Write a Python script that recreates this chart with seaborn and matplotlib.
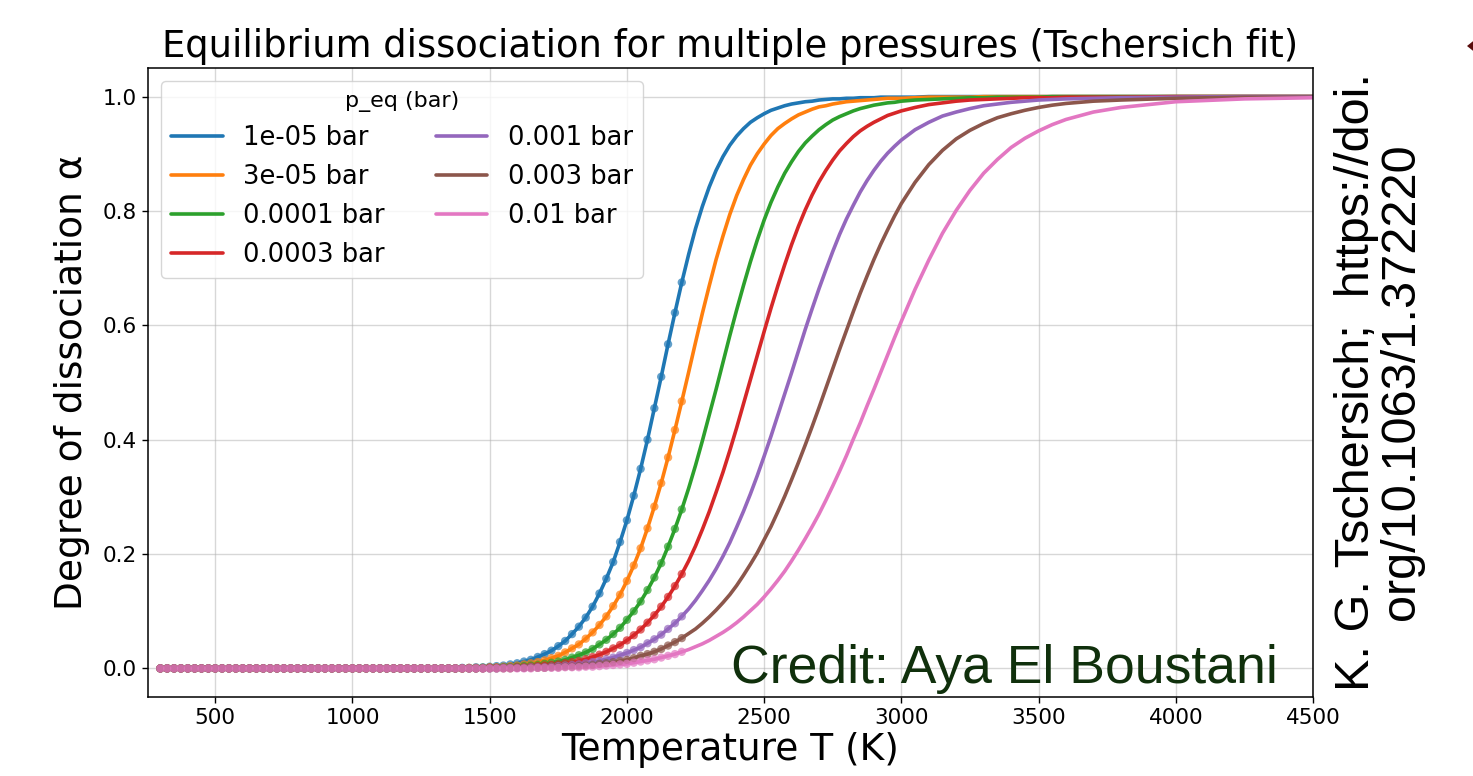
import matplotlib
matplotlib.use("Agg")
import matplotlib.pyplot as plt
from matplotlib.patches import Polygon
from matplotlib import font_manager
import seaborn as sns
import pandas as pd

# ---------------- data ----------------
PRESSURES = [1e-05, 3e-05, 0.0001, 0.0003, 0.001, 0.003, 0.01]   # bar
LABELS = [f"{p} bar" for p in PRESSURES]
COLORS = ["#1f77b4", "#ff7f0e", "#2ca02c", "#d62728", "#9467bd", "#8c564b", "#e377c2"]

# temperatures where every curve still reads 0.000
T_COLD = [300, 325, 350, 375, 400, 425, 450, 475, 500, 525, 550,
          575, 600, 625, 650, 675, 700, 725, 750, 775, 800, 825,
          850, 875, 900, 925, 950, 975, 1000, 1025, 1050, 1075, 1100,
          1125, 1150, 1175, 1200, 1225, 1250, 1275, 1300, 1325, 1350, 1375]
ALPHA_COLD = [0.0, 0.0, 0.0, 0.0, 0.0, 0.0, 0.0, 0.0, 0.0, 0.0, 0.0,
              0.0, 0.0, 0.0, 0.0, 0.0, 0.0, 0.0, 0.0, 0.0, 0.0, 0.0,
              0.0, 0.0, 0.0, 0.0, 0.0, 0.0, 0.0, 0.0, 0.0, 0.0, 0.0,
              0.0, 0.0, 0.0, 0.0, 0.0, 0.0, 0.0, 0.0, 0.0, 0.0, 0.0]

T_HOT = [1400, 1425, 1450, 1475, 1500, 1525, 1550, 1575, 1600, 1625, 1650,
         1675, 1700, 1725, 1750, 1775, 1800, 1825, 1850, 1875, 1900, 1925,
         1950, 1975, 2000, 2025, 2050, 2075, 2100, 2125, 2150, 2175, 2200,
         2250, 2300, 2350, 2400, 2450, 2500, 2550, 2600, 2650, 2700, 2750,
         2800, 2850, 2900, 2950, 3000,
         3050, 3100, 3150, 3200, 3250, 3300, 3350, 3400, 3450, 3500, 3550, 3600,
         3700, 3800, 4000, 4250, 4500]

ALPHA_1E5 = [0.001, 0.001, 0.002, 0.002, 0.003, 0.004, 0.005, 0.007, 0.009, 0.012, 0.015,
             0.020, 0.025, 0.031, 0.039, 0.048, 0.060, 0.073, 0.089, 0.108, 0.131, 0.157,
             0.186, 0.221, 0.259, 0.302, 0.349, 0.400, 0.455, 0.510, 0.567, 0.622, 0.675,
             0.769, 0.842, 0.895, 0.931, 0.955, 0.970, 0.980, 0.987, 0.991, 0.994, 0.996,
             0.997, 0.998, 0.998, 0.999, 0.999,
             0.999, 1.000, 1.000, 1.000, 1.000, 1.000, 1.000, 1.000, 1.000, 1.000, 1.000, 1.000,
             1.000, 1.000, 1.000, 1.000, 1.000]
ALPHA_3E5 = [0.000, 0.001, 0.001, 0.001, 0.002, 0.002, 0.003, 0.004, 0.005, 0.007, 0.009,
             0.011, 0.014, 0.018, 0.022, 0.028, 0.035, 0.042, 0.052, 0.063, 0.076, 0.091,
             0.109, 0.129, 0.153, 0.180, 0.210, 0.245, 0.283, 0.324, 0.369, 0.417, 0.467,
             0.570, 0.669, 0.756, 0.827, 0.880, 0.917, 0.944, 0.961, 0.973, 0.982, 0.987,
             0.991, 0.993, 0.995, 0.997, 0.997,
             0.998, 0.999, 0.999, 0.999, 0.999, 1.000, 1.000, 1.000, 1.000, 1.000, 1.000, 1.000,
             1.000, 1.000, 1.000, 1.000, 1.000]
ALPHA_1E4 = [0.000, 0.000, 0.000, 0.001, 0.001, 0.001, 0.002, 0.002, 0.003, 0.004, 0.005,
             0.006, 0.008, 0.010, 0.012, 0.015, 0.019, 0.023, 0.028, 0.034, 0.042, 0.050,
             0.060, 0.071, 0.085, 0.100, 0.117, 0.137, 0.159, 0.184, 0.213, 0.244, 0.278,
             0.355, 0.443, 0.535, 0.627, 0.711, 0.784, 0.842, 0.886, 0.919, 0.942, 0.959,
             0.970, 0.979, 0.985, 0.989, 0.992,
             0.994, 0.995, 0.996, 0.997, 0.998, 0.998, 0.999, 0.999, 0.999, 0.999, 1.000, 1.000,
             1.000, 1.000, 1.000, 1.000, 1.000]
ALPHA_3E4 = [0.000, 0.000, 0.000, 0.000, 0.001, 0.001, 0.001, 0.001, 0.002, 0.002, 0.003,
             0.004, 0.005, 0.006, 0.007, 0.009, 0.011, 0.013, 0.016, 0.020, 0.024, 0.029,
             0.035, 0.041, 0.049, 0.058, 0.068, 0.080, 0.093, 0.108, 0.125, 0.144, 0.165,
             0.214, 0.274, 0.343, 0.421, 0.505, 0.589, 0.669, 0.741, 0.802, 0.851, 0.889,
             0.918, 0.940, 0.955, 0.967, 0.975,
             0.981, 0.986, 0.989, 0.992, 0.994, 0.995, 0.996, 0.997, 0.998, 0.998, 0.998, 0.999,
             0.999, 0.999, 1.000, 1.000, 1.000]
ALPHA_1E3 = [0.000, 0.000, 0.000, 0.000, 0.000, 0.000, 0.001, 0.001, 0.001, 0.001, 0.002,
             0.002, 0.002, 0.003, 0.004, 0.005, 0.006, 0.007, 0.009, 0.011, 0.013, 0.016,
             0.019, 0.023, 0.027, 0.032, 0.037, 0.044, 0.051, 0.059, 0.069, 0.079, 0.091,
             0.119, 0.154, 0.196, 0.247, 0.305, 0.371, 0.443, 0.517, 0.593, 0.664, 0.729,
             0.786, 0.833, 0.871, 0.901, 0.924,
             0.942, 0.955, 0.966, 0.973, 0.979, 0.984, 0.987, 0.990, 0.992, 0.994, 0.995, 0.996,
             0.997, 0.998, 0.999, 1.000, 1.000]
ALPHA_3E3 = [0.000, 0.000, 0.000, 0.000, 0.000, 0.000, 0.000, 0.000, 0.001, 0.001, 0.001,
             0.001, 0.001, 0.002, 0.002, 0.003, 0.003, 0.004, 0.005, 0.006, 0.008, 0.009,
             0.011, 0.013, 0.015, 0.018, 0.022, 0.025, 0.029, 0.034, 0.040, 0.046, 0.053,
             0.069, 0.090, 0.115, 0.145, 0.182, 0.225, 0.274, 0.330, 0.391, 0.456, 0.524,
             0.591, 0.656, 0.715, 0.767, 0.813,
             0.850, 0.881, 0.906, 0.926, 0.941, 0.953, 0.963, 0.970, 0.976, 0.981, 0.985, 0.988,
             0.992, 0.994, 0.997, 0.999, 0.999]
ALPHA_1E2 = [0.000, 0.000, 0.000, 0.000, 0.000, 0.000, 0.000, 0.000, 0.000, 0.000, 0.000,
             0.001, 0.001, 0.001, 0.001, 0.002, 0.002, 0.002, 0.003, 0.003, 0.004, 0.005,
             0.006, 0.007, 0.008, 0.010, 0.012, 0.014, 0.016, 0.019, 0.022, 0.025, 0.029,
             0.038, 0.049, 0.063, 0.080, 0.101, 0.125, 0.154, 0.188, 0.227, 0.270, 0.319,
             0.372, 0.429, 0.488, 0.548, 0.607,
             0.663, 0.714, 0.761, 0.801, 0.836, 0.866, 0.890, 0.911, 0.927, 0.940, 0.951, 0.960,
             0.973, 0.981, 0.991, 0.996, 0.998]

# extra readings between 2200 K and 3000 K where the curves bend most
T_MID = [2225, 2275, 2325, 2375, 2425, 2475, 2525, 2575,
         2625, 2675, 2725, 2775, 2825, 2875, 2925, 2975]
MID_1E5 = [0.724, 0.808, 0.871, 0.915, 0.944, 0.963, 0.976, 0.984,
           0.989, 0.992, 0.995, 0.996, 0.997, 0.998, 0.999, 0.999]
MID_3E5 = [0.518, 0.621, 0.715, 0.794, 0.855, 0.900, 0.932, 0.953,
           0.968, 0.978, 0.984, 0.989, 0.992, 0.994, 0.996, 0.997]
MID_1E4 = [0.315, 0.398, 0.488, 0.582, 0.670, 0.749, 0.815, 0.866,
           0.904, 0.931, 0.951, 0.965, 0.975, 0.982, 0.987, 0.990]
MID_3E4 = [0.188, 0.243, 0.308, 0.381, 0.463, 0.547, 0.630, 0.706,
           0.773, 0.828, 0.871, 0.905, 0.930, 0.948, 0.961, 0.971]
MID_1E3 = [0.104, 0.136, 0.174, 0.220, 0.275, 0.337, 0.406, 0.480,
           0.555, 0.629, 0.697, 0.759, 0.810, 0.853, 0.887, 0.913]
MID_3E3 = [0.061, 0.079, 0.102, 0.129, 0.163, 0.202, 0.248, 0.301,
           0.360, 0.423, 0.490, 0.558, 0.624, 0.686, 0.742, 0.791]
MID_1E2 = [0.033, 0.043, 0.056, 0.071, 0.090, 0.112, 0.139, 0.170,
           0.207, 0.248, 0.294, 0.345, 0.401, 0.459, 0.518, 0.578]

ALPHAS = [ALPHA_1E5, ALPHA_3E5, ALPHA_1E4, ALPHA_3E4, ALPHA_1E3, ALPHA_3E3, ALPHA_1E2]
MIDS = [MID_1E5, MID_3E5, MID_1E4, MID_3E4, MID_1E3, MID_3E3, MID_1E2]

T_MARKER_MAX = 2200   # tabulated points are shown up to this temperature

TITLE = "Equilibrium dissociation for multiple pressures (Tschersich fit)"
XLABEL = "Temperature T (K)"
YLABEL = "Degree of dissociation α"
LEGEND_TITLE = "p_eq (bar)"
CREDIT = "Credit: Aya El Boustani"
REFERENCE = "K. G. Tschersich;  https://doi.\norg/10.1063/1.372220"
X_TICKS = [500, 1000, 1500, 2000, 2500, 3000, 3500, 4000, 4500]
Y_TICKS = [0.0, 0.2, 0.4, 0.6, 0.8, 1.0]

# ---------------- table for seaborn ----------------
rows = []
for order, (label, alphas, mids) in enumerate(zip(LABELS, ALPHAS, MIDS)):
    for t, a in zip(T_COLD + T_HOT + T_MID, ALPHA_COLD + alphas + mids):
        rows.append({"T": t, "alpha": a, "pressure": label, "order": order})
df = pd.DataFrame(rows).sort_values(["order", "T"], kind="stable")
marks = df[df["T"] <= T_MARKER_MAX]

# ---------------- style ----------------
sns.set_theme(style="ticks", rc={
    "axes.edgecolor": "black",
    "axes.linewidth": 1.1,
    "axes.labelcolor": "black",
    "text.color": "black",
    "xtick.color": "black",
    "ytick.color": "black",
    "xtick.major.size": 4.5,
    "ytick.major.size": 4.5,
    "xtick.major.width": 1.0,
    "ytick.major.width": 1.0,
})
plt.rcParams["font.family"] = ["DejaVu Sans"]

fig = plt.figure(figsize=(14.73, 7.76), dpi=100)
ax = fig.add_axes([148 / 1473, 1 - 697 / 776, (1313 - 148) / 1473, (697 - 68) / 776])

sns.lineplot(data=df, x="T", y="alpha", hue="pressure", hue_order=LABELS,
             palette=COLORS, linewidth=2.6, estimator=None, sort=True, ax=ax)
sns.scatterplot(data=marks, x="T", y="alpha", hue="pressure", hue_order=LABELS,
                palette=COLORS, s=36, alpha=0.7, linewidth=0, legend=False,
                ax=ax, zorder=3)

ax.set_xlim(255, 4500)
ax.set_ylim(-0.05, 1.05)
ax.set_xticks(X_TICKS)
ax.set_yticks(Y_TICKS)
ax.set_yticklabels([f"{v:.1f}" for v in Y_TICKS])
ax.tick_params(labelsize=15.5, labelcolor="black")
ax.grid(True, color="#b0b0b0", alpha=0.5, linewidth=1.0)
for s in ax.spines.values():
    s.set_visible(True)
    s.set_color("black")

ax.set_title(TITLE, fontsize=26.6, pad=8, color="black")
ax.set_xlabel(XLABEL, fontsize=27, labelpad=3, color="black")
ax.set_ylabel(YLABEL, fontsize=27, labelpad=9, color="black")

handles, labels = ax.get_legend_handles_labels()
leg = ax.legend(handles, labels, title=LEGEND_TITLE, ncol=2, loc="upper left",
                fontsize=18.5, title_fontsize=16, labelspacing=0.5,
                handlelength=2.0, columnspacing=2.0, framealpha=0.8,
                labelcolor="black")
leg.get_title().set_color("black")

# credit
fig.text(1278 / 1473, 1 - 683 / 776, CREDIT, ha="right", va="baseline",
         fontsize=38.5, family=["Liberation Sans", "DejaVu Sans"], color="#10300c")

# reference on the right side
names = {f.name for f in font_manager.fontManager.ttflist}
if "Liberation Sans Narrow" in names:
    ref_family, ref_size = ["Liberation Sans Narrow", "DejaVu Sans"], 41
else:
    ref_family, ref_size = ["Liberation Sans", "DejaVu Sans"], 35
fig.text(1379 / 1473, 1 - 382 / 776, REFERENCE, rotation=90, ha="center", va="center",
         multialignment="center", fontsize=ref_size, family=ref_family,
         color="black", linespacing=1.0)

# small dark-red diamond cut by the top-right edge
W, H = 1473, 776
diamond = Polygon([(1467 / W, 1 - 46 / H), (1482 / W, 1 - 34 / H),
                   (1497 / W, 1 - 46 / H), (1482 / W, 1 - 58 / H)],
                  closed=True, transform=fig.transFigure, facecolor="#5a0d0d",
                  edgecolor="none", clip_on=False)
fig.add_artist(diamond)

fig.savefig("out.png", dpi=100)
